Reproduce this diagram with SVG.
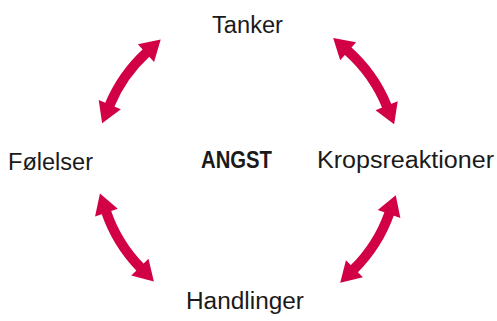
<svg xmlns="http://www.w3.org/2000/svg" width="497" height="321" viewBox="0 0 497 321">
  <style>
    .lbl { font-family: "Liberation Sans", "DejaVu Sans", sans-serif; font-size: 23px; fill: #1a1a1a; }
    .core { font-weight: bold; }
    .arc { fill: none; stroke: #d20045; stroke-width: 10; marker-start: url(#head); marker-end: url(#head); }
  </style>
  <defs>
    <marker id="head" markerUnits="userSpaceOnUse" markerWidth="26" markerHeight="28" viewBox="-2 -13 26 26" refX="1" refY="0" orient="auto-start-reverse">
      <path d="M0,-12 L20,0 L0,12 Z" fill="#d20045"/>
    </marker>
  </defs>

  <g id="connectors">
    <!-- arcs on a circle centred at (248,163), r=150 -->
    <path class="arc" d="M109.4,105.6 A150,150 0 0 1 146.7,52.4"/>
    <path class="arc" d="M347.4,50.6 A150,150 0 0 1 387.0,106.6"/>
    <path class="arc" d="M389.4,213.1 A150,150 0 0 1 353.7,269.4"/>
    <path class="arc" d="M140.6,267.8 A150,150 0 0 1 106.1,211.6"/>
  </g>

  <g id="tanker"><text class="lbl" x="212" y="33" textLength="71" lengthAdjust="spacingAndGlyphs">Tanker</text></g>
  <g id="folelser"><text class="lbl" x="8" y="170" textLength="85" lengthAdjust="spacingAndGlyphs">Følelser</text></g>
  <g id="angst"><text class="lbl core" x="201" y="168" textLength="71" lengthAdjust="spacingAndGlyphs">ANGST</text></g>
  <g id="kropsreaktioner"><text class="lbl" x="317" y="168" textLength="177" lengthAdjust="spacingAndGlyphs">Kropsreaktioner</text></g>
  <g id="handlinger"><text class="lbl" x="186" y="309" textLength="118" lengthAdjust="spacingAndGlyphs">Handlinger</text></g>
</svg>
